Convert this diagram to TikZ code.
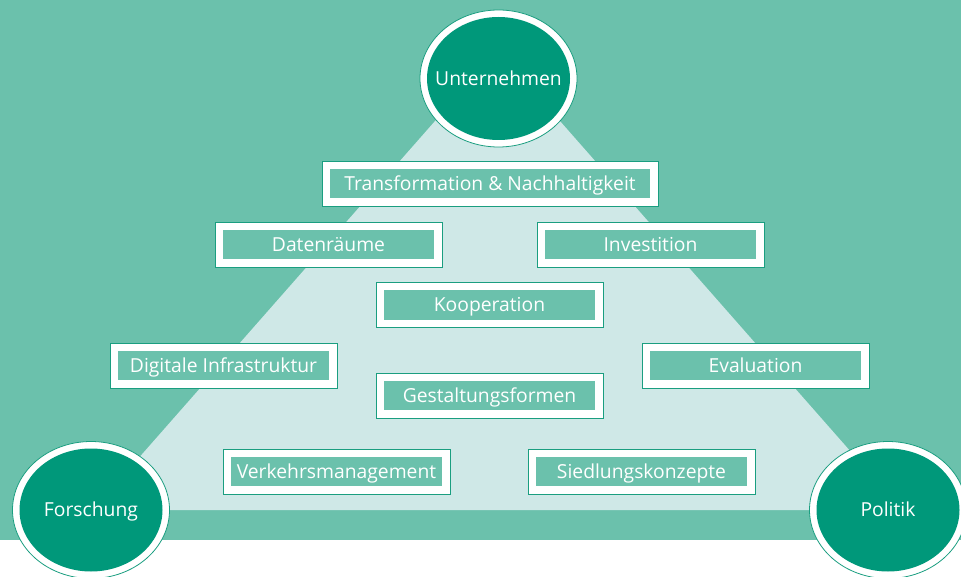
\documentclass[tikz,border=0pt]{standalone}
\usepackage{fontspec}
\setmainfont{Open Sans}
\usetikzlibrary{shapes.geometric}
\definecolor{bggreen}{HTML}{6BC1AC}
\definecolor{trifill}{HTML}{CFE8E7}
\definecolor{darkgreen}{HTML}{00987A}
\definecolor{edgegreen}{HTML}{1A9E80}
\tikzset{
  lbl/.style={text=white, font=\fontsize{19.3}{22}\selectfont, text height=13.8pt, text depth=0pt, inner sep=0pt},
  box/.style={lbl, draw=edgegreen, line width=0.8pt, fill=white, minimum width=227pt,
    minimum height=45pt,
    path picture={\fill[bggreen] ([xshift=8pt,yshift=-8pt]path picture bounding box.north west)
      rectangle ([xshift=-8pt,yshift=8pt]path picture bounding box.south east);}},
  ring/.style={ellipse, draw=edgegreen, line width=0.8pt, fill=white, minimum width=157pt,
    minimum height=137pt, inner sep=0pt},
  core/.style={ellipse, fill=darkgreen, minimum width=143pt, minimum height=123pt,
    inner sep=0pt}
}
\begin{document}
\begin{tikzpicture}[x=1pt,y=-1pt]
\useasboundingbox (0,0) rectangle (961,577);
\fill[bggreen] (0,0) rectangle (961,540);
\fill[trifill] (93,510) -- (902,510) -- (497.5,50) -- cycle;

\node[box, minimum width=336pt] (trans) at (490,183.5) {Transformation \& Nachhaltigkeit};
\node[box] (daten) at (328.5,244.5) {Datenräume};
\node[box] (invest) at (650.5,244.5) {Investition};
\node[box] (koop) at (489.5,305) {Kooperation};
\node[box] (digi) at (223.5,365.5) {Digitale Infrastruktur};
\node[box] (eval) at (755.5,365.5) {Evaluation};
\node[box] (gest) at (489.5,395.5) {Gestaltungsformen};
\node[box] (verk) at (336.5,471.5) {Verkehrsmanagement};
\node[box] (sied) at (641.5,471.5) {Siedlungskonzepte};

\node[ring] (uring) at (498.5,78.5) {};
\node[core] (ucore) at (498.5,78.5) {};
\node[lbl] (unt) at (498.5,78.5) {Unternehmen};
\node[ring] (fring) at (91,510) {};
\node[core] (fcore) at (91,510) {};
\node[lbl] (for) at (91,510) {Forschung};
\node[ring] (pring) at (888,510) {};
\node[core] (pcore) at (888,510) {};
\node[lbl] (pol) at (888,510) {Politik};
\end{tikzpicture}
\end{document}
